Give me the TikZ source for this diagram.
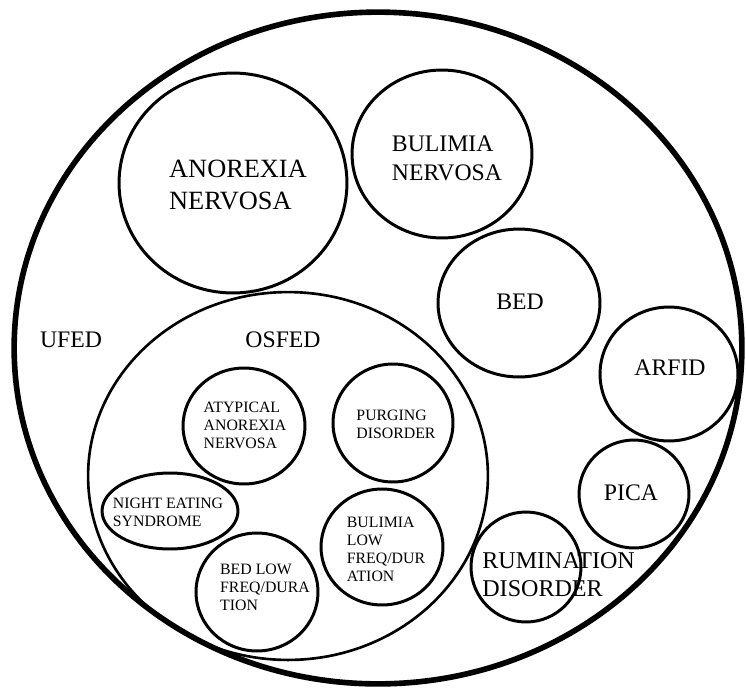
\documentclass[tikz,border=0pt]{standalone}
\usepackage{fontspec}
\setmainfont{Liberation Serif}
\usetikzlibrary{shapes.geometric}

\tikzset{
  disorder/.style 2 args={draw, ellipse, line width=1.7pt, inner sep=0pt,
    minimum width=#1*0.04cm, minimum height=#2*0.04cm},
  bigtxt/.style={font=\fontsize{13.5}{16.5}\selectfont, align=left, inner sep=0pt},
  smalltxt/.style={font=\fontsize{9}{10.3}\selectfont, align=left, inner sep=0pt}
}

\begin{document}
\begin{tikzpicture}[x=0.02cm, y=-0.02cm]
    \useasboundingbox (0,0) rectangle (746,690);

    % outer group and OSFED group
    \node[disorder={364}{336}, line width=3.2pt] (allED) at (378,348) {};
    \node[disorder={200}{184}, line width=1.5pt] (osfed) at (288,476) {};

    % main diagnoses
    \node[disorder={114}{110}] (an) at (233,183) {};
    \node[disorder={90}{84}] (bn) at (442,154) {};
    \node[disorder={81}{74}] (bed) at (519,303) {};
    \node[disorder={69}{67}] (arfid) at (669,374) {};
    \node[disorder={55}{54}] (pica) at (634,494) {};
    \node[disorder={55}{55}] (rum) at (526,567) {};

    % OSFED subtypes
    \node[disorder={61}{58}] (atyp) at (244,426) {};
    \node[disorder={60}{59}] (purg) at (393,423) {};
    \node[disorder={68}{38}] (night) at (170,511) {};
    \node[disorder={61}{58}] (bnlow) at (382,547) {};
    \node[disorder={61}{59}] (bedlow) at (257,592) {};

    % labels
    \node[bigtxt, font=\fontsize{15}{18.2}\selectfont] (anTxt) at (238,185) {ANOREXIA\\NERVOSA};
    \node[bigtxt] (bnTxt) at (447,158) {BULIMIA\\NERVOSA};
    \node[bigtxt] (bedTxt) at (520,302) {BED};
    \node[bigtxt] (arfidTxt) at (670,368) {ARFID};
    \node[bigtxt] (picaTxt) at (631,493) {PICA};
    \node[bigtxt, anchor=west, font=\fontsize{13.7}{16}\selectfont] (rumTxt) at (482,575) {RUMINATION\\DISORDER};
    \node[bigtxt] (osfedTxt) at (283,340) {OSFED};
    \node[bigtxt] (ufedTxt) at (71,340) {UFED};

    \node[smalltxt] (atypTxt) at (245,425) {ATYPICAL\\ANOREXIA\\NERVOSA};
    \node[smalltxt] (purgTxt) at (396,424) {PURGING\\DISORDER};
    \node[smalltxt] (nightTxt) at (168,512) {NIGHT EATING\\SYNDROME};
    \node[smalltxt] (bnlowTxt) at (386,549) {BULIMIA\\LOW\\FREQ/DUR\\ATION};
    \node[smalltxt] (bedlowTxt) at (265,587) {BED LOW\\FREQ/DURA\\TION};
\end{tikzpicture}
\end{document}
